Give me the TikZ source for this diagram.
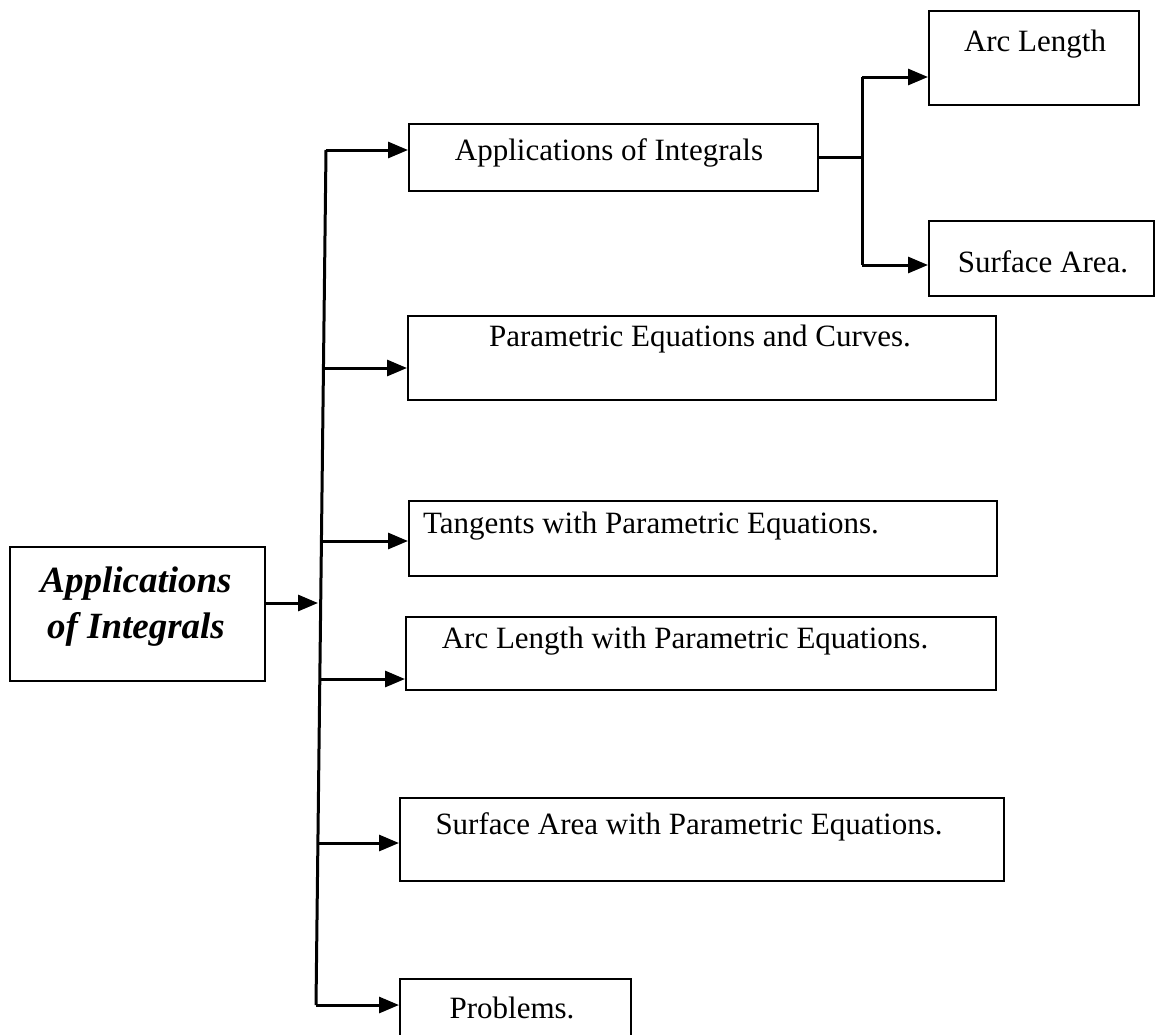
\documentclass[tikz,border=0pt]{standalone}
\usepackage{fontspec}
\setmainfont{Liberation Serif}
\usetikzlibrary{arrows.meta,calc}
\begin{document}
\begin{tikzpicture}[x=1pt,y=-1pt,
  box/.style={draw,line width=2.2pt,rectangle,inner sep=0pt,anchor=north west},
  lbl/.style={inner sep=0pt,font=\fontsize{31}{34}\selectfont},
  conn/.style={line width=3pt},
  arr/.style={line width=3pt,-{Triangle[length=20pt,width=16pt]}}]
\useasboundingbox (0,0) rectangle (1155,1034);
\clip (0,0) rectangle (1155,1034);
% main box
\node[box,minimum width=255pt,minimum height=134pt] (main) at (9,546) {};
\node[inner sep=0pt,font=\fontsize{37}{46}\selectfont\bfseries\itshape,align=center] (mainlbl) at (136,607) {Applications\\of Integrals};
% boxes
\node[box,minimum width=409pt,minimum height=67pt] (b1) at (408,123) {};
\node[lbl] (t1) at (609,153) {Applications of Integrals};
\node[box,minimum width=210pt,minimum height=94pt] (b11) at (928,10) {};
\node[lbl] (t11) at (1035,44) {Arc Length};
\node[box,minimum width=225pt,minimum height=75pt] (b12) at (928,220) {};
\node[lbl] (t12) at (1043,262) {Surface Area.};
\node[box,minimum width=588pt,minimum height=84pt] (b2) at (407,315) {};
\node[lbl] (t2) at (700,339) {Parametric Equations and Curves.};
\node[box,minimum width=588pt,minimum height=75pt] (b3) at (408,500) {};
\node[lbl] (t3) at (651,526) {Tangents with Parametric Equations.};
\node[box,minimum width=590pt,minimum height=73pt] (b4) at (405,616) {};
\node[lbl] (t4) at (685,641) {Arc Length with Parametric Equations.};
\node[box,minimum width=604pt,minimum height=83pt] (b5) at (399,797) {};
\node[lbl] (t5) at (689,827) {Surface Area with Parametric Equations.};
\node[box,minimum width=231pt,minimum height=80pt] (b6) at (399,978) {};
\node[lbl] (t6) at (512,1008) {Problems.};
% trunk
\coordinate (ttop) at (326,150);
\coordinate (tbot) at (316,1005);
\draw[conn] (ttop) -- (tbot);
\coordinate (j0) at (318,603);
\coordinate (j2) at (323.5,368);
\coordinate (j3) at (321.7,541);
\coordinate (j4) at (320.1,679);
\coordinate (j5) at (318.3,843);
\draw[arr] (main.east |- j0) -- (j0);
\draw[arr] (ttop) -- (b1.west |- ttop);
\draw[arr] (j2) -- (b2.west |- j2);
\draw[arr] (j3) -- (b3.west |- j3);
\draw[arr] (j4) -- (b4.west |- j4);
\draw[arr] (j5) -- (b5.west |- j5);
\draw[arr] (tbot) -- (b6.west |- tbot);
% sub branch
\coordinate (s0) at (862,157);
\coordinate (s1) at (862,77);
\coordinate (s2) at (862,265);
\draw[conn] (b1.east |- s0) -- (s0);
\draw[conn] (s1) -- (s2);
\draw[arr] (s1) -- (b11.west |- s1);
\draw[arr] (s2) -- (b12.west |- s2);
\end{tikzpicture}
\end{document}
